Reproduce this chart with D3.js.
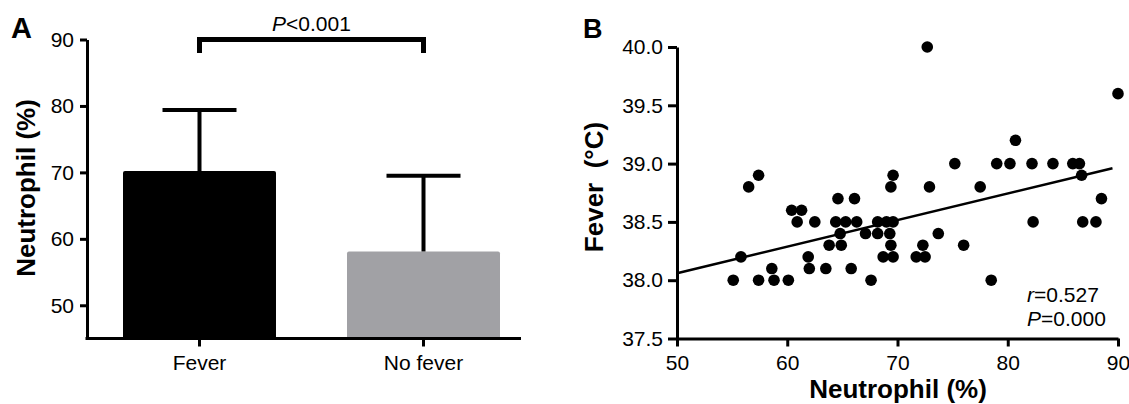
<!DOCTYPE html>
<html>
<head>
<meta charset="utf-8">
<script src="https://cdn.jsdelivr.net/npm/d3@7.9.0/dist/d3.min.js"></script>
<style>
  body { margin: 0; background: #fff; }
  svg { display: block; font-family: Arial, "Liberation Sans", Helvetica, sans-serif; }
  .axis path, .axis line { stroke: #000; stroke-width: 3; }
  .axis text { font-size: 21px; fill: #000; font-family: Arial, "Liberation Sans", Helvetica, sans-serif; }
</style>
</head>
<body>
<svg id="chart" width="1129" height="404"></svg>
<script>
// panel A: bar chart
const barCategories = ['Fever', 'No fever'];
const barMeans = [70.2, 58.1];
const barErrors = [9.2, 11.4];
const yTicksA = [50, 60, 70, 80, 90];

// panel B: scatter
const neutrophil = [55.1, 55.8, 56.5, 57.4, 57.4, 58.6, 58.8, 60.1, 60.4, 61.3,
  60.9, 62.5, 61.9, 62.0, 63.5, 63.8, 64.6, 64.4, 65.3, 64.8,
  64.9, 65.8, 66.1, 66.3, 67.1, 67.6, 68.2, 68.2, 68.7, 69.0,
  69.6, 69.3, 69.4, 69.4, 69.6, 69.6, 71.7, 72.3, 72.5, 72.7,
  72.9, 73.7, 75.2, 76.0, 77.5, 78.5, 79.0, 80.2, 80.7, 82.2,
  82.3, 84.1, 85.9, 86.5, 86.7, 86.8, 88.0, 88.5, 90.0];
const fever = [38.0, 38.2, 38.8, 38.9, 38.0, 38.1, 38.0, 38.0, 38.6, 38.6,
  38.5, 38.5, 38.2, 38.1, 38.1, 38.3, 38.7, 38.5, 38.5, 38.4,
  38.3, 38.1, 38.7, 38.5, 38.4, 38.0, 38.5, 38.4, 38.2, 38.5,
  38.5, 38.4, 38.3, 38.8, 38.9, 38.2, 38.2, 38.3, 38.2, 40.0,
  38.8, 38.4, 39.0, 38.3, 38.8, 38.0, 39.0, 39.0, 39.2, 39.0,
  38.5, 39.0, 39.0, 39.0, 38.9, 38.5, 38.5, 38.7, 39.6];
const fitX = [50, 89.5];
const fitY = [38.06, 38.96];
const xTicksB = [50, 60, 70, 80, 90];
const yTicksB = [37.5, 38.0, 38.5, 39.0, 39.5, 40.0];

const svg = d3.select('#chart');

// ---------- panel A ----------
const gA = svg.append('g');
const xA = d3.scaleBand().domain(barCategories).range([123, 500]).paddingInner(0.317);
const yA = d3.scaleLinear().domain([45, 90]).range([338.5, 39.5]);
const colorA = d3.scaleOrdinal().domain(barCategories).range(['#000000', '#a1a1a5']);

const bars = barCategories.map((c, i) => ({ cat: c, mean: barMeans[i], err: barErrors[i] }));

gA.selectAll('rect.bar')
  .data(bars)
  .join('rect')
  .attr('class', 'bar')
  .attr('x', (d) => xA(d.cat))
  .attr('y', (d) => yA(d.mean))
  .attr('width', xA.bandwidth())
  .attr('height', (d) => yA(45) - yA(d.mean))
  .attr('rx', 2)
  .attr('fill', (d) => colorA(d.cat));

// error bars (upper only)
const errG = gA.append('g').attr('stroke', '#000').attr('stroke-width', 4);
errG.selectAll('line.stem')
  .data(bars)
  .join('line')
  .attr('x1', (d) => xA(d.cat) + xA.bandwidth() / 2)
  .attr('x2', (d) => xA(d.cat) + xA.bandwidth() / 2)
  .attr('y1', (d) => yA(d.mean))
  .attr('y2', (d) => yA(d.mean + d.err));
errG.selectAll('line.cap')
  .data(bars)
  .join('line')
  .attr('x1', (d) => xA(d.cat) + xA.bandwidth() / 2 - 37)
  .attr('x2', (d) => xA(d.cat) + xA.bandwidth() / 2 + 37)
  .attr('y1', (d) => yA(d.mean + d.err))
  .attr('y2', (d) => yA(d.mean + d.err));

// y axis
gA.append('g')
  .attr('class', 'axis')
  .attr('transform', 'translate(87,0)')
  .call(d3.axisLeft(yA).tickValues(yTicksA).tickSize(7).tickSizeOuter(0).tickPadding(6));

// x axis
const xAxisA = gA.append('g')
  .attr('class', 'axis')
  .attr('transform', 'translate(0,338.5)')
  .call(d3.axisBottom(xA).tickSize(8).tickSizeOuter(0).tickPadding(5));
xAxisA.select('.domain').remove();
xAxisA.append('line')
  .attr('x1', 85.5).attr('x2', 521)
  .attr('stroke', '#000').attr('stroke-width', 3);
xAxisA.selectAll('text').attr('dy', '0.9em');

// y label
gA.append('text')
  .attr('transform', 'translate(35,188) rotate(-90)')
  .attr('text-anchor', 'middle')
  .style('font-size', '26px')
  .style('font-weight', 'bold')
  .text('Neutrophil (%)');

// significance bracket
const bx1 = xA('Fever') + xA.bandwidth() / 2;
const bx2 = xA('No fever') + xA.bandwidth() / 2;
gA.append('path')
  .attr('d', `M${bx1},53 V39.5 H${bx2} V53`)
  .attr('fill', 'none')
  .attr('stroke', '#000')
  .attr('stroke-width', 5);
const pText = gA.append('text')
  .attr('x', (bx1 + bx2) / 2)
  .attr('y', 30.5)
  .attr('text-anchor', 'middle')
  .style('font-size', '21px');
pText.append('tspan').style('font-style', 'italic').text('P');
pText.append('tspan').text('<0.001');

// panel letter
gA.append('text')
  .attr('x', 11).attr('y', 37.5)
  .style('font-size', '29px').style('font-weight', 'bold')
  .text('A');

// ---------- panel B ----------
const gB = svg.append('g');
const xB = d3.scaleLinear().domain([50, 90]).range([677, 1118]);
const yB = d3.scaleLinear().domain([37.5, 40]).range([338.5, 47]);

gB.append('g')
  .attr('class', 'axis')
  .attr('transform', 'translate(0,338.5)')
  .call(d3.axisBottom(xB).tickValues(xTicksB).tickSize(8).tickSizeOuter(0).tickPadding(5))
  .selectAll('text').attr('dy', '0.9em');

gB.append('g')
  .attr('class', 'axis')
  .attr('transform', 'translate(677,0)')
  .call(d3.axisLeft(yB).tickValues(yTicksB).tickFormat(d3.format('.1f')).tickSize(9).tickSizeOuter(0).tickPadding(5));

// regression line
gB.append('line')
  .attr('x1', xB(fitX[0])).attr('y1', yB(fitY[0]))
  .attr('x2', xB(fitX[1])).attr('y2', yB(fitY[1]))
  .attr('stroke', '#000')
  .attr('stroke-width', 2.5);

// points
const pts = neutrophil.map((n, i) => ({ n, f: fever[i] }));
gB.append('g')
  .selectAll('circle')
  .data(pts)
  .join('circle')
  .attr('cx', (d) => xB(d.n))
  .attr('cy', (d) => yB(d.f))
  .attr('r', 5.8)
  .attr('fill', '#000');

// stats text
const rText = gB.append('text').attr('x', 1027).attr('y', 301.5).style('font-size', '21px');
rText.append('tspan').style('font-style', 'italic').text('r');
rText.append('tspan').text('=0.527');
const p2Text = gB.append('text').attr('x', 1027).attr('y', 326).style('font-size', '21px');
p2Text.append('tspan').style('font-style', 'italic').text('P');
p2Text.append('tspan').text('=0.000');

// axis labels
gB.append('text')
  .attr('x', 898).attr('y', 398)
  .attr('text-anchor', 'middle')
  .style('font-size', '26px').style('font-weight', 'bold')
  .text('Neutrophil (%)');
gB.append('text')
  .attr('transform', 'translate(603,187) rotate(-90)')
  .attr('text-anchor', 'middle')
  .style('font-size', '26px').style('font-weight', 'bold')
  .style('white-space', 'pre')
  .text('Fever  (°C)');

gB.append('text')
  .attr('x', 583).attr('y', 37.5)
  .style('font-size', '27px').style('font-weight', 'bold')
  .text('B');
</script>
</body>
</html>
